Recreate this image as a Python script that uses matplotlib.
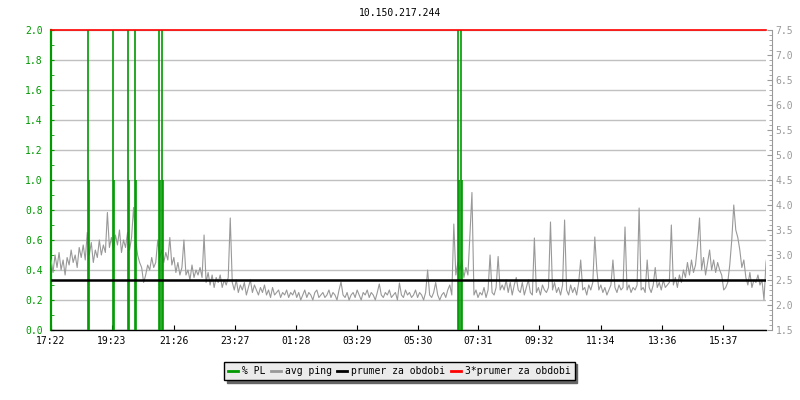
import matplotlib
matplotlib.use('Agg')
import matplotlib.pyplot as plt
from matplotlib.ticker import MultipleLocator, FormatStrFormatter

plt.rcParams['font.family'] = ['DejaVu Sans Mono']

# Data
title = '10.150.217.244'
tick_minutes = [0, 121, 244, 365, 486, 607, 728, 849, 970, 1092, 1214, 1335]
tick_labels = ['17:22', '19:23', '21:26', '23:27', '01:28', '03:29',
               '05:30', '07:31', '09:32', '11:34', '13:36', '15:37']
span_minutes = 1420
sample_step = 4  # minutes between ping samples

# avg ping (ms), one row per hour starting at 17:22
avg_ping = [
    2.9, 2.65, 3.0, 2.75, 3.05, 2.7, 2.9, 2.6, 2.95, 2.8, 3.1, 2.85, 3.0, 2.75, 3.15,
    2.95, 3.2, 2.9, 3.45, 3.0, 3.25, 2.85, 3.1, 2.95, 3.3, 3.0, 3.2, 3.05, 3.85, 3.15,
    3.35, 3.1, 3.4, 3.2, 3.5, 3.05, 3.3, 3.15, 3.45, 3.1, 3.35, 3.95, 3.3, 3.0, 2.85,
    2.75, 2.45, 2.6, 2.8, 2.7, 2.95, 2.75, 2.85, 3.3, 2.95, 3.1, 2.85, 3.05, 2.9, 3.35,
    2.8, 2.95, 2.65, 2.85, 2.6, 2.75, 3.3, 2.6, 2.7, 2.5, 2.8, 2.55, 2.7, 2.6, 2.75,
    2.55, 3.4, 2.45, 2.65, 2.4, 2.6, 2.35, 2.55, 2.45, 2.6, 2.35, 2.5, 2.4, 2.55, 3.74,
    2.45, 2.3, 2.5, 2.25, 2.4, 2.3, 2.45, 2.2, 2.35, 2.5, 2.25, 2.4, 2.3, 2.2, 2.35,
    2.25, 2.4, 2.2, 2.3, 2.15, 2.35, 2.2, 2.25, 2.3, 2.15, 2.25, 2.2, 2.3, 2.15, 2.25,
    2.2, 2.3, 2.15, 2.25, 2.1, 2.2, 2.3, 2.15, 2.25, 2.2, 2.1, 2.25, 2.3, 2.15, 2.2,
    2.25, 2.15, 2.2, 2.3, 2.15, 2.25, 2.2, 2.1, 2.3, 2.46, 2.2, 2.15, 2.25, 2.1, 2.2,
    2.25, 2.15, 2.3, 2.2, 2.1, 2.25, 2.2, 2.3, 2.15, 2.25, 2.2, 2.1, 2.25, 2.42, 2.2,
    2.15, 2.25, 2.2, 2.3, 2.15, 2.2, 2.25, 2.1, 2.44, 2.2, 2.15, 2.3, 2.2, 2.25, 2.15,
    2.2, 2.3, 2.15, 2.25, 2.2, 2.1, 2.25, 2.7, 2.2, 2.15, 2.25, 2.45, 2.2, 2.1, 2.2,
    2.25, 2.15, 2.3, 2.4, 2.2, 3.62, 2.6, 2.85, 2.7, 2.9, 2.55, 2.75, 2.6, 3.4, 4.25,
    2.2, 2.3, 2.15, 2.25, 2.2, 2.35, 2.15, 2.3, 3.0, 2.25, 2.2, 2.35, 2.97, 2.3, 2.4,
    2.3, 2.5, 2.25, 2.45, 2.2, 2.4, 2.55, 2.3, 2.25, 2.45, 2.2, 2.35, 2.5, 2.25, 2.2,
    3.34, 2.25, 2.35, 2.2, 2.4, 2.3, 2.25, 2.35, 3.66, 2.3, 2.45, 2.25, 2.35, 2.2, 2.4,
    3.7, 2.3, 2.2, 2.4, 2.25, 2.35, 2.2, 2.45, 2.9, 2.3, 2.35, 2.2, 2.4, 2.3, 2.45,
    3.36, 2.7, 2.3, 2.4, 2.25, 2.35, 2.2, 2.3, 2.4, 2.9, 2.35, 2.25, 2.4, 2.3, 2.35,
    3.56, 2.3, 2.4, 2.25, 2.35, 2.3, 2.4, 3.94, 2.3, 2.35, 2.25, 2.9, 2.35, 2.25, 2.4,
    2.75, 2.35, 2.45, 2.3, 2.5, 2.35, 2.4, 2.45, 3.6, 2.4, 2.55, 2.35, 2.6, 2.45, 2.7,
    2.55, 2.85, 2.6, 2.9, 2.65, 2.8, 3.2, 3.74, 2.7, 2.95, 2.6, 2.85, 3.1, 2.7, 2.9,
    2.65, 2.85, 2.7, 2.6, 2.3, 2.35, 2.45, 2.8, 3.3, 4.0, 3.5, 3.35, 3.1, 2.75, 2.9,
    2.55, 2.4, 2.65, 2.35, 2.5, 2.45, 2.6, 2.4, 2.5, 2.1, 2.85, 3.1,
]
ping_minutes = [i * sample_step for i in range(len(avg_ping))]

# packet loss events (minutes since 17:22, % PL)
pl_minutes = [73, 75, 123, 125, 153, 155, 167, 169, 214, 216, 220, 222, 809, 811, 815, 817]
pl_values = [2.0, 1.0, 2.0, 1.0, 2.0, 1.0, 2.0, 1.0, 2.0, 1.0, 2.0, 1.0, 2.0, 1.0, 2.0, 1.0]

mean_ping = 2.5

green = '#009900'
gray = '#999999'

fig = plt.figure(figsize=(8, 4), dpi=100)
ax = fig.add_axes([51 / 800, 70 / 400, 715 / 800, 300 / 400])
ax2 = ax.twinx()

# left axis: packet loss
ax.set_xlim(0, span_minutes)
ax.set_ylim(0, 2.0)
ax.yaxis.set_major_locator(MultipleLocator(0.2))
ax.yaxis.set_minor_locator(MultipleLocator(0.1))
ax.yaxis.set_major_formatter(FormatStrFormatter('%.1f'))
ax.grid(axis='y', color='#c0c0c0', lw=1)
ax.set_axisbelow(True)
ax.tick_params(axis='y', which='both', direction='in', colors=green, labelsize=7, pad=6)
ax.tick_params(axis='y', which='major', length=2)
ax.tick_params(axis='y', which='minor', length=2)
ax.set_xticks(tick_minutes)
ax.set_xticklabels(tick_labels)
ax.tick_params(axis='x', direction='in', length=3.5, labelsize=7, pad=4, colors='black')
ax.spines['left'].set_color(green)
ax.spines['left'].set_linewidth(1.6)
ax.spines['bottom'].set_linewidth(1.0)
for s in ['top', 'right']:
    ax.spines[s].set_visible(False)

# right axis: ping
ax2.set_ylim(1.5, 7.5)
ax2.yaxis.set_major_locator(MultipleLocator(0.5))
ax2.yaxis.set_minor_locator(MultipleLocator(0.1))
ax2.yaxis.set_major_formatter(FormatStrFormatter('%.1f'))
ax2.tick_params(axis='y', which='both', direction='in', colors=gray, labelsize=7, pad=3)
ax2.tick_params(axis='y', which='major', length=3.5)
ax2.tick_params(axis='y', which='minor', length=2.5)
ax2.spines['right'].set_position(('outward', 4))
ax2.spines['right'].set_color(gray)
for s in ['top', 'left', 'bottom']:
    ax2.spines[s].set_visible(False)

l_ping, = ax2.plot(ping_minutes, avg_ping, color=gray, lw=0.8, zorder=2, label='avg ping')
ax2.vlines(pl_minutes, 0, pl_values, colors=green, lw=1.2, zorder=3, transform=ax.transData)
l_pl, = ax2.plot([], [], color=green, lw=2, label='% PL')
l_mean = ax2.axhline(mean_ping, color='black', lw=1.8, zorder=4, label='prumer za obdobi')
l_red = ax2.axhline(3 * mean_ping, color='red', lw=1.2, zorder=5, label='3*prumer za obdobi', clip_on=False)

ax2.set_xlim(0, span_minutes)
ax2.set_ylim(1.5, 7.5)

fig.text(0.5, 1 - 13 / 400, title, ha='center', va='center', fontsize=7)

handles = [l_pl, l_ping, l_mean, l_red]
leg = fig.legend(handles, [h.get_label() for h in handles], loc='center',
                 bbox_to_anchor=(0.499, 0.0725), ncol=4, fontsize=7,
                 handlelength=1.0, handletextpad=0.4, columnspacing=0.6,
                 borderpad=0.45, fancybox=False, framealpha=1,
                 facecolor='#ebebeb', edgecolor='black',
                 shadow={'color': '#666666', 'alpha': 1})
leg.get_frame().set_linewidth(1.0)
for h in leg.get_lines():
    h.set_linewidth(2)

fig.savefig('out.png', dpi=100)
